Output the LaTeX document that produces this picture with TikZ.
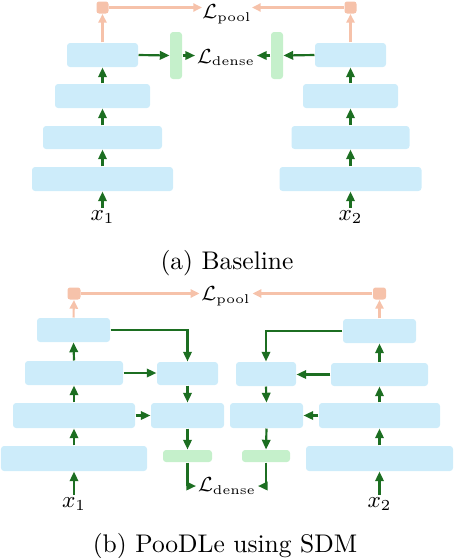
\documentclass[tikz,border=0pt]{standalone}
\usepackage{amsmath}
\usetikzlibrary{arrows.meta}
\definecolor{boxblue}{RGB}{205,236,250}
\definecolor{bargreen}{RGB}{197,240,203}
\definecolor{arrgreen}{RGB}{28,110,33}
\definecolor{poolor}{RGB}{246,194,170}
\def\pxu{0.3922pt}
\newcommand{\lossL}[1]{\mathcal{L}_{\scriptscriptstyle\mathrm{#1}}}
\tikzset{
  bx/.style 2 args={draw=none, fill=boxblue, rounded corners=1.2pt, inner sep=0pt,
    minimum width=#1*\pxu, minimum height=#2*\pxu},
  gbar/.style 2 args={draw=none, fill=bargreen, rounded corners=1.2pt, inner sep=0pt,
    minimum width=#1*\pxu, minimum height=#2*\pxu},
  psq/.style={draw=none, fill=poolor, rounded corners=1pt, inner sep=0pt,
    minimum width=12*\pxu, minimum height=12*\pxu},
  garrow/.style={draw=arrgreen, line width=0.85pt, -{Triangle[length=3.8pt,width=3.3pt]}},
  parrow/.style={draw=poolor, line width=0.8pt, -{Triangle[length=3.4pt,width=3.2pt]}},
  lbl/.style={inner sep=0.6pt, font=\footnotesize},
  xlbl/.style={inner sep=1pt, font=\small},
  captext/.style={inner sep=0pt, font=\normalsize},
}
\begin{document}
\begin{tikzpicture}[x=0.3922pt, y=-0.3922pt]
\useasboundingbox (0,0) rectangle (454,558);
% ---------------- (a) Baseline ----------------
\node[bx={71}{24}] (aL1) at (102.5,55) {};
\node[bx={95}{24}] (aL2) at (102.5,96) {};
\node[bx={119}{23}] (aL3) at (102.5,137.5) {};
\node[bx={141}{24}] (aL4) at (102.5,179) {};
\node[bx={71}{24}] (aR1) at (350.5,55) {};
\node[bx={95}{24}] (aR2) at (350.5,96) {};
\node[bx={118}{23}] (aR3) at (350.5,137.5) {};
\node[bx={142}{24}] (aR4) at (350.5,179) {};
\node[gbar={12}{47}] (aGL) at (176,55.5) {};
\node[gbar={12}{47}] (aGR) at (277,55.5) {};
\node[psq] (aPL) at (102.5,7.5) {};
\node[psq] (aPR) at (350.5,7.5) {};
\node[lbl, inner sep=0pt] (aLp) at (227,14) {$\lossL{pool}$};
\node[lbl] (aLd) at (226,57.5) {$\lossL{dense}$};
\node[xlbl] (ax1) at (102.5,217) {$x_1$};
\node[xlbl] (ax2) at (350.5,217) {$x_2$};
\node[captext] (capa) at (227,263) {(a) Baseline};
% arrows
\draw[garrow] (ax1.north) -- (aL4.south);
\draw[garrow] (aL4.north) -- (aL3.south);
\draw[garrow] (aL3.north) -- (aL2.south);
\draw[garrow] (aL2.north) -- (aL1.south);
\draw[garrow] (ax2.north) -- (aR4.south);
\draw[garrow] (aR4.north) -- (aR3.south);
\draw[garrow] (aR3.north) -- (aR2.south);
\draw[garrow] (aR2.north) -- (aR1.south);
\draw[garrow] (aL1.east) -- (aGL.west);
\draw[garrow] (aGL.east) -- (aGL.east -| aLd.west);
\draw[garrow] (aR1.west) -- (aGR.east);
\draw[garrow] (aGR.west) -- (aGR.west -| aLd.east);
\draw[parrow] (aL1.north) -- (aPL.south);
\draw[parrow] (aR1.north) -- (aPR.south);
\draw[parrow] (aPL.east) -- (aPL.east -| aLp.west);
\draw[parrow] (aPR.west) -- (aPR.west -| aLp.east);
% ---------------- (b) PooDLe using SDM ----------------
\node[bx={73}{24}] (bL1) at (73.5,330) {};
\node[bx={98}{24}] (bL2) at (74,373) {};
\node[bx={122}{25}] (bL3) at (74,415.5) {};
\node[bx={146}{25}] (bL4) at (74,458.5) {};
\node[bx={61}{23}] (bD1L) at (187.5,373.5) {};
\node[bx={73}{25}] (bD2L) at (187.5,415.5) {};
\node[gbar={49}{12}] (bGL) at (187.5,456) {};
\node[bx={60}{24}] (bD1R) at (266,374) {};
\node[bx={73}{25}] (bD2R) at (266.5,415.5) {};
\node[gbar={48}{12}] (bGR) at (266,456) {};
\node[bx={73}{24}] (bR1) at (379.5,331) {};
\node[bx={97}{23}] (bR2) at (379.5,374.5) {};
\node[bx={121}{25}] (bR3) at (379.5,415.5) {};
\node[bx={147}{25}] (bR4) at (379.5,458.5) {};
\node[psq, minimum width=13*\pxu, minimum height=12*\pxu] (bPL) at (74,293.5) {};
\node[psq, minimum width=13*\pxu, minimum height=12*\pxu] (bPR) at (379.5,293.5) {};
\node[lbl] (bLp) at (226,296) {$\lossL{pool}$};
\node[lbl] (bLd) at (227,486) {$\lossL{dense}$};
\node[xlbl] (bx1) at (74,504) {$x_1$};
\node[xlbl] (bx2) at (379.5,504) {$x_2$};
\node[captext] (capb) at (225,546) {(b) PooDLe using SDM};
% encoder arrows
\draw[garrow] (bx1.north) -- (bL4.south);
\draw[garrow] (bL4.north) -- (bL3.south);
\draw[garrow] (bL3.north) -- (bL2.south);
\draw[garrow] (bL2.north) -- (bL1.south);
\draw[garrow] (bx2.north) -- (bR4.south);
\draw[garrow] (bR4.north) -- (bR3.south);
\draw[garrow] (bR3.north) -- (bR2.south);
\draw[garrow] (bR2.north) -- (bR1.south);
% decoder
\draw[garrow] (bL1.east) -| (bD1L.north);
\draw[garrow] (bL2.east) -- (bL2.east -| bD1L.west);
\draw[garrow] (bL3.east) -- (bD2L.west);
\draw[garrow] (bD1L.south) -- (bD2L.north);
\draw[garrow] (bD2L.south) -- (bGL.north);
\draw[garrow] (bGL.south) |- (bLd.west);
\draw[garrow] (bR1.west) -| (bD1R.north);
\draw[garrow] (bR2.west) -- (bR2.west -| bD1R.east);
\draw[garrow] (bR3.west) -- (bD2R.east);
\draw[garrow] (bD1R.south) -- (bD2R.north);
\draw[garrow] (bD2R.south) -- (bGR.north);
\draw[garrow] (bGR.south) |- (bLd.east);
% pool
\draw[parrow] (bL1.north) -- (bPL.south);
\draw[parrow] (bR1.north) -- (bPR.south);
\draw[parrow] (bPL.east) -- (bPL.east -| bLp.west);
\draw[parrow] (bPR.west) -- (bPR.west -| bLp.east);
\end{tikzpicture}
\end{document}
